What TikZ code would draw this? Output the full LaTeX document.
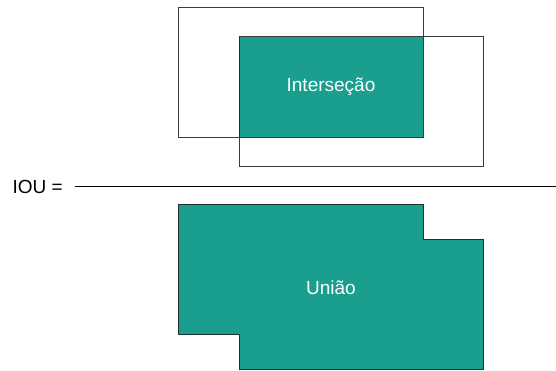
\documentclass[tikz,border=0pt]{standalone}
\usepackage{fontspec}
\setmainfont{Liberation Sans}
\definecolor{teal}{HTML}{1A9F8F}
\definecolor{frame}{HTML}{3C3C3C}
\begin{document}
\begin{tikzpicture}[x=1pt,y=-1pt,
  box/.style={draw=frame,line width=0.9pt,inner sep=0pt},
  label/.style={text=white,font=\fontsize{19}{22}\selectfont},
  boundary/.style={draw=frame!80!teal!60!black,line width=0.9pt,line join=miter}]
  \useasboundingbox (0,0) rectangle (556,370);

  % two overlapping boxes and their common part
  \node[box,minimum width=245pt,minimum height=130pt] (boxa) at (300.5,72) {};
  \node[box,minimum width=244pt,minimum height=130pt] (boxb) at (361,101) {};
  \fill[teal] (239,36) rectangle (423,137);
  \draw[boundary] (239,36) rectangle (423,137);
  \draw[frame,line width=0.9pt] (239,36) -- (423,36) (423,7) -- (423,137) -- (178,137);
  \node[label] (inter) at (331,87) {Interseção};

  % fraction bar
  \node[font=\fontsize{19}{22}\selectfont,anchor=west] (iou) at (9,187) {IOU =};
  \coordinate (barl) at (75,186);
  \coordinate (barr) at (556,186);
  \draw[black,line width=0.9pt] (barl) -- (barr);

  % union of both boxes
  \draw[boundary,fill=teal] (178,204) -- (423,204) -- (423,239) -- (483,239)
    -- (483,369) -- (239,369) -- (239,334) -- (178,334) -- cycle;
  \node[label] (union) at (331,288) {União};
\end{tikzpicture}
\end{document}
